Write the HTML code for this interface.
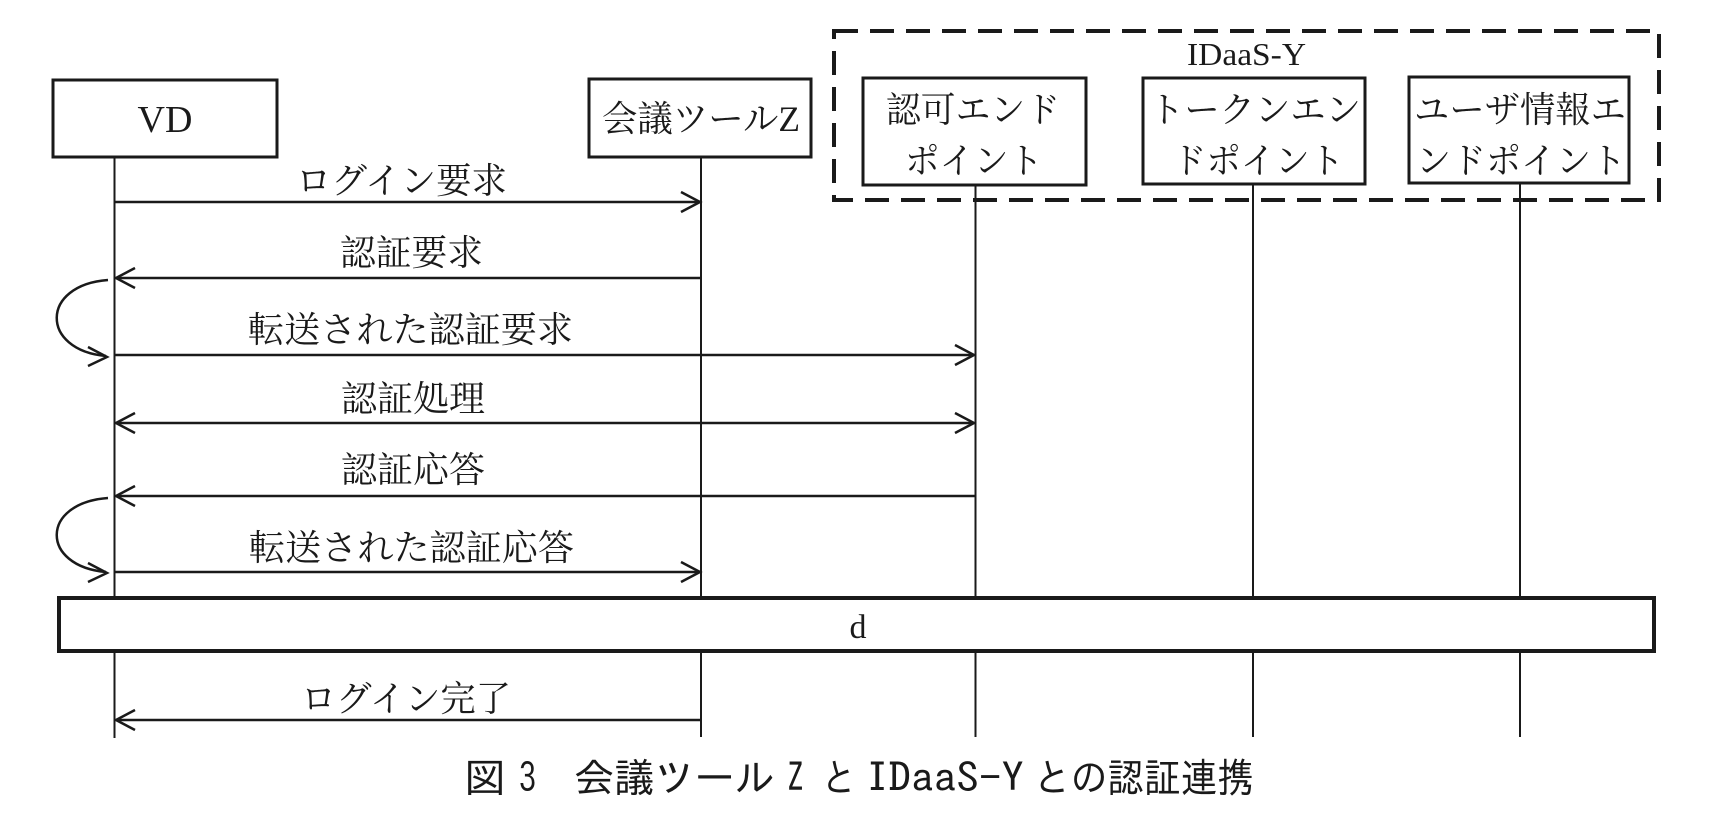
<!DOCTYPE html>
<html>
<head>
<meta charset="utf-8">
<style>
  html,body{margin:0;padding:0;background:#fff;}
  svg{display:block;}
  .t{font-family:"Liberation Serif","Noto Serif CJK SC",serif;fill:#1a1a1a;}
  .c{font-family:"IPAGothic","Noto Sans CJK JP",sans-serif;fill:#1a1a1a;}
</style>
</head>
<body>
<svg width="1728" height="834" viewBox="0 0 1728 834" xmlns="http://www.w3.org/2000/svg">
  <rect x="0" y="0" width="1728" height="834" fill="#fff"/>

  <!-- lifelines -->
  <g stroke="#1a1a1a" stroke-width="2" fill="none">
    <line x1="114.5" y1="157" x2="114.5" y2="738"/>
    <line x1="701" y1="157" x2="701" y2="737"/>
    <line x1="975.5" y1="185" x2="975.5" y2="737"/>
    <line x1="1253" y1="184" x2="1253" y2="737"/>
    <line x1="1520" y1="183" x2="1520" y2="737"/>
  </g>

  <!-- participant boxes -->
  <g stroke="#1a1a1a" stroke-width="3" fill="#fff">
    <rect x="53" y="80" width="224" height="77"/>
    <rect x="589" y="79" width="222" height="78"/>
    <rect x="863" y="78" width="223" height="107"/>
    <rect x="1143" y="78" width="222" height="106"/>
    <rect x="1409" y="77" width="220" height="106"/>
  </g>

  <!-- dashed IDaaS-Y group -->
  <rect x="834" y="31" width="825" height="169" fill="none" stroke="#1a1a1a" stroke-width="4" stroke-dasharray="24 12"/>

  <!-- participant labels -->
  <text class="t" x="165" y="132" font-size="38" text-anchor="middle">VD</text>
  <text class="t" x="602" y="131" font-size="36" textLength="198" lengthAdjust="spacingAndGlyphs">会議ツールZ</text>
  <text class="t" x="1187" y="65" font-size="32" textLength="119" lengthAdjust="spacingAndGlyphs">IDaaS-Y</text>

  <text class="t" x="886" y="122" font-size="36" textLength="174" lengthAdjust="spacingAndGlyphs">認可エンド</text>
  <text class="t" x="905" y="173" font-size="36" textLength="138" lengthAdjust="spacingAndGlyphs">ポイント</text>

  <text class="t" x="1149" y="122" font-size="36" textLength="212" lengthAdjust="spacingAndGlyphs">トークンエン</text>
  <text class="t" x="1172" y="173" font-size="36" textLength="172" lengthAdjust="spacingAndGlyphs">ドポイント</text>

  <text class="t" x="1414" y="122" font-size="36" textLength="212" lengthAdjust="spacingAndGlyphs">ユーザ情報エ</text>
  <text class="t" x="1416" y="173" font-size="36" textLength="210" lengthAdjust="spacingAndGlyphs">ンドポイント</text>

  <!-- messages -->
  <g stroke="#1a1a1a" stroke-width="2.5" fill="none" stroke-linejoin="miter">
    <line x1="115" y1="202" x2="700" y2="202"/>
    <polyline points="681,192 700,202 681,212"/>
    <line x1="701" y1="278" x2="116" y2="278"/>
    <polyline points="135,268 116,278 135,288"/>
    <path d="M108,280 C40,285 40,350 106,356"/>
    <polyline points="88,347 107,357 88,366"/>
    <line x1="115" y1="355" x2="974" y2="355"/>
    <polyline points="955,345 974,355 955,365"/>
    <line x1="116" y1="423" x2="974" y2="423"/>
    <polyline points="955,413 974,423 955,433"/>
    <polyline points="135,413 116,423 135,433"/>
    <line x1="975" y1="496" x2="116" y2="496"/>
    <polyline points="135,486 116,496 135,506"/>
    <path d="M108,498 C40,503 40,566 106,572"/>
    <polyline points="88,563 107,573 88,582"/>
    <line x1="115" y1="572" x2="700" y2="572"/>
    <polyline points="681,562 700,572 681,582"/>
    <line x1="701" y1="720" x2="116" y2="720"/>
    <polyline points="135,710 116,720 135,730"/>
  </g>

  <!-- message labels -->
  <text class="t" x="296" y="193" font-size="36" textLength="211" lengthAdjust="spacingAndGlyphs">ログイン要求</text>
  <text class="t" x="340" y="265" font-size="36" textLength="143" lengthAdjust="spacingAndGlyphs">認証要求</text>
  <text class="t" x="248" y="342" font-size="36" textLength="325" lengthAdjust="spacingAndGlyphs">転送された認証要求</text>
  <text class="t" x="341" y="411" font-size="36" textLength="144" lengthAdjust="spacingAndGlyphs">認証処理</text>
  <text class="t" x="341" y="482" font-size="36" textLength="144" lengthAdjust="spacingAndGlyphs">認証応答</text>
  <text class="t" x="249" y="560" font-size="36" textLength="325" lengthAdjust="spacingAndGlyphs">転送された認証応答</text>
  <text class="t" x="301" y="711" font-size="36" textLength="210" lengthAdjust="spacingAndGlyphs">ログイン完了</text>

  <!-- d box -->
  <rect x="59" y="598" width="1595" height="53" fill="#fff" stroke="#1a1a1a" stroke-width="4"/>
  <text class="t" x="858" y="638" font-size="34" text-anchor="middle">d</text>

  <!-- caption -->
  <g class="c" font-size="40">
    <text x="464" y="792" textLength="42" lengthAdjust="spacingAndGlyphs">図</text>
    <text x="519" y="792" textLength="17" lengthAdjust="spacingAndGlyphs">3</text>
    <text x="574" y="792" textLength="201" lengthAdjust="spacingAndGlyphs">会議ツール</text>
    <text x="787" y="792" textLength="17" lengthAdjust="spacingAndGlyphs">Z</text>
    <text x="822" y="792" textLength="34" lengthAdjust="spacingAndGlyphs">と</text>
    <text x="866" y="792" textLength="158" lengthAdjust="spacingAndGlyphs">IDaaS-Y</text>
    <text x="1034" y="792" textLength="220" lengthAdjust="spacingAndGlyphs">との認証連携</text>
  </g>
</svg>
</body>
</html>
